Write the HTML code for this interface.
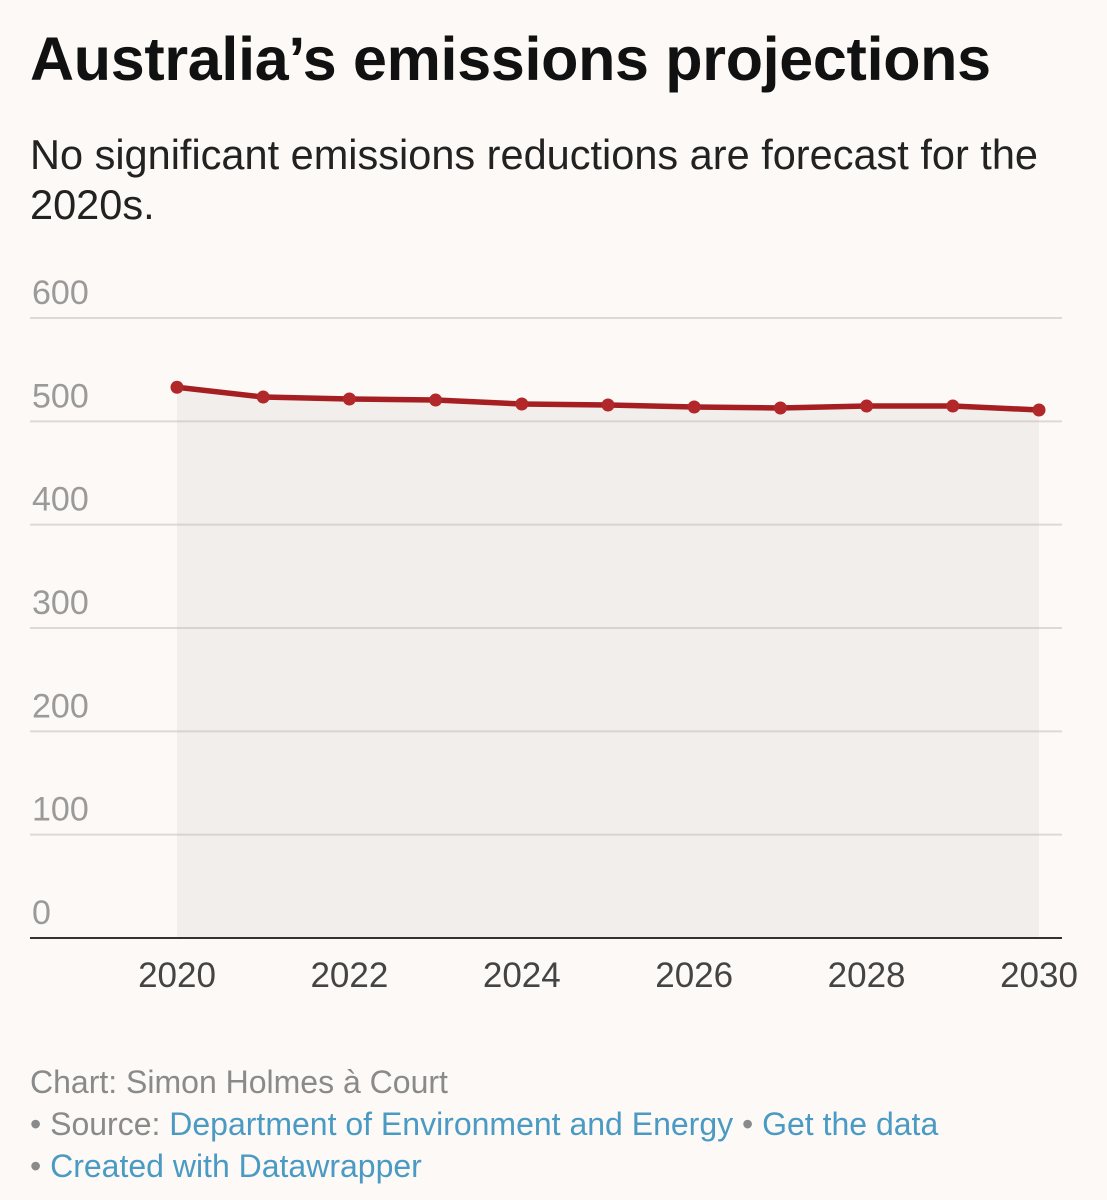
<!DOCTYPE html>
<html><head><meta charset="utf-8"><style>
body{margin:0;background:#fcf9f6;font-family:"Liberation Sans",sans-serif;}
#wrap{position:relative;width:1107px;height:1200px;overflow:hidden;}
h1{position:absolute;left:30px;top:24px;margin:0;font-size:61px;font-weight:bold;color:#111;letter-spacing:-0.3px;white-space:nowrap;}
#sub{position:absolute;left:30px;top:130px;margin:0;font-size:41.5px;line-height:50px;color:#222;width:1060px;}
#foot{position:absolute;left:30px;top:1061px;font-size:32px;line-height:42px;color:#8a8a8a;}
#foot a{color:#4a9ac4;text-decoration:none;}
</style></head><body><div id="wrap">
<h1>Australia’s emissions projections</h1>
<p id="sub">No significant emissions reductions are forecast for the 2020s.</p>
<svg id="chart" width="1107" height="1200" style="position:absolute;left:0;top:0"></svg>
<div id="foot">
<div>Chart: Simon Holmes à Court</div>
<div>• Source: <a>Department of Environment and Energy</a> • <a>Get the data</a></div>
<div>• <a>Created with Datawrapper</a></div>
</div>
</div>
<script>
const years=[2020,2021,2022,2023,2024,2025,2026,2027,2028,2029,2030];
const emissions=[533,523.5,521.6,520.6,516.8,515.8,513.9,512.9,514.8,514.8,511];
const yTicks=[0,100,200,300,400,500,600];
const xTicks=[2020,2022,2024,2026,2028,2030];
const NS="http://www.w3.org/2000/svg";
const svg=document.getElementById('chart');
const x=v=>177+(v-2020)*(1039-177)/10;
const y=v=>938-v*(938-318)/600;
function mk(t,a){const e=document.createElementNS(NS,t);for(const k in a)e.setAttribute(k,a[k]);svg.appendChild(e);return e;}
yTicks.forEach(t=>{
 if(t>0){const l=mk('line',{x1:30,x2:1062,y1:y(t),y2:y(t),stroke:'#dcdad7','stroke-width':2});
 
 }
 const tx=mk('text',{x:32,y:y(t)-14,'font-size':34,fill:'#9a9a9a','font-family':'Liberation Sans, sans-serif'});
 tx.textContent=t;
 
 
});
let area='M'+x(years[0])+','+y(0);
years.forEach((yr,i)=>area+=' L'+x(yr)+','+y(emissions[i]));
area+=' L'+x(years[years.length-1])+','+y(0)+' Z';
const ar=mk('path',{d:area,fill:'#b0a89f','fill-opacity':0.13});


const base=mk('line',{x1:30,x2:1062,y1:y(0),y2:y(0),stroke:'#333','stroke-width':2});


xTicks.forEach(t=>{
 const tx=mk('text',{x:x(t),y:987,'font-size':35,fill:'#444','text-anchor':'middle','font-family':'Liberation Sans, sans-serif'});
 tx.textContent=t;
 
 
});
const ln=mk('polyline',{points:years.map((yr,i)=>x(yr)+','+y(emissions[i])).join(' '),fill:'none',stroke:'#a51f22','stroke-width':5.5,'stroke-linejoin':'round'});


years.forEach((yr,i)=>{
 const c=mk('circle',{cx:x(yr),cy:y(emissions[i]),r:6.5,fill:'#b2272a'});
 
 
});
</script></body></html>
